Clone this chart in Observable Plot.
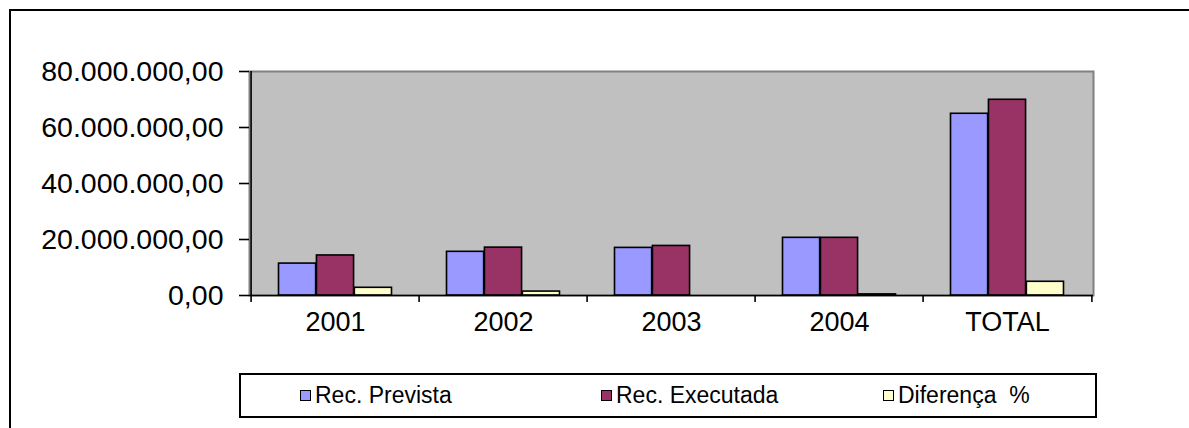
<!DOCTYPE html>
<html>
<head>
<meta charset="utf-8">
<script src="https://cdn.jsdelivr.net/npm/d3@7"></script>
<script src="https://cdn.jsdelivr.net/npm/@observablehq/plot@0.6"></script>
<style>
  html, body { margin: 0; padding: 0; background: #fff; overflow: hidden; width: 1189px; height: 428px; }
  #wrap { position: relative; width: 1189px; height: 428px; }
  #chart { position: absolute; left: 0; top: 0; }
  #outer { position: absolute; left: 9px; top: 9px; width: 1400px; height: 600px; border: 2px solid #000; pointer-events: none; }
  #legend { position: absolute; left: 239px; top: 373px; width: 854px; height: 41px; border: 2px solid #000; background: #fff;
            font-family: "Liberation Sans", Arial, sans-serif; font-size: 23px; color: #000; }
  .item { position: absolute; top: 0; height: 41px; display: flex; align-items: center; white-space: pre; }
  .sw { width: 9px; height: 9px; border: 1.5px solid #000; margin-right: 4px; }
</style>
</head>
<body>
<div id="wrap">
  <div id="chart"></div>
  <div id="legend"></div>
  <div id="outer"></div>
</div>
<script>
const categories = ["2001", "2002", "2003", "2004", "TOTAL"];
const seriesNames = ["Rec. Prevista", "Rec. Executada", "Diferença  %"];
const seriesColors = ["#9999FF", "#993366", "#FFFFCC"];
const recPrevista  = [11.4e6, 15.6e6, 17.0e6, 20.6e6, 64.9e6];
const recExecutada = [14.3e6, 17.1e6, 17.7e6, 20.6e6, 69.9e6];
const diferenca    = [2.75e6, 1.4e6, 0, 0.4e6, 4.9e6];
const yTicks = [0, 20e6, 40e6, 60e6, 80e6];

const seriesValues = [recPrevista, recExecutada, diferenca];

const W = 1189, H = 345;
const mL = 249, mR = 96, mT = 71, mB = 50;
const bw = (W - mL - mR) / categories.length;
const outer = 27.5;
const barW = (bw - 2 * outer) / 3;

const fmt = d3.formatLocale({decimal: ",", thousands: ".", grouping: [3], currency: ["", ""]}).format(",.2f");

const barMarks = seriesValues.map((vals, i) =>
  Plot.barY(categories.map((c, j) => ({cat: c, v: vals[j]})), {
    x: "cat", y1: 0, y2: "v",
    fill: seriesColors[i], stroke: "#000", strokeWidth: 1.6,
    insetLeft: outer + i * barW,
    insetRight: bw - outer - (i + 1) * barW
  })
);

const chart = Plot.plot({
  width: W, height: H,
  marginLeft: mL, marginRight: mR, marginTop: mT, marginBottom: mB,
  style: {fontFamily: "'Liberation Sans', Arial, sans-serif", fontSize: "27px", background: "transparent", color: "#000"},
  x: {domain: categories, padding: 0, label: null},
  y: {domain: [0, 80e6], label: null},
  marks: [
    Plot.frame({fill: "#C0C0C0", stroke: "#808080", strokeWidth: 2}),
    ...barMarks,
    Plot.ruleY([0], {stroke: "#000", strokeWidth: 1.6}),
    Plot.ruleX([categories[0]], {dx: -bw / 2, y1: 0, y2: 80e6, stroke: "#000", strokeWidth: 1.6}),
    Plot.axisY({ticks: yTicks, tickSize: 10, tickPadding: 16, tickFormat: fmt, stroke: "#000", strokeWidth: 1.6, fontSize: 28.5, label: null}),
    Plot.axisX({tickSize: 7, tickFormat: () => "", dx: -bw / 2, stroke: "#000", strokeWidth: 1.6, label: null}),
    Plot.axisX([categories[categories.length - 1]], {tickSize: 7, tickFormat: () => "", dx: bw / 2, stroke: "#000", strokeWidth: 1.6, label: null}),
    Plot.axisX({tickSize: 0, tickPadding: 16, fontSize: 27, label: null})
  ]
});
document.getElementById("chart").appendChild(chart);

const legend = document.getElementById("legend");
const itemLeft = [59, 360, 642];
seriesNames.forEach((name, i) => {
  const it = document.createElement("div");
  it.className = "item";
  it.style.left = itemLeft[i] + "px";
  const sw = document.createElement("span");
  sw.className = "sw";
  sw.style.background = seriesColors[i];
  const t = document.createElement("span");
  t.textContent = name;
  it.appendChild(sw);
  it.appendChild(t);
  legend.appendChild(it);
});
</script>
</body>
</html>
